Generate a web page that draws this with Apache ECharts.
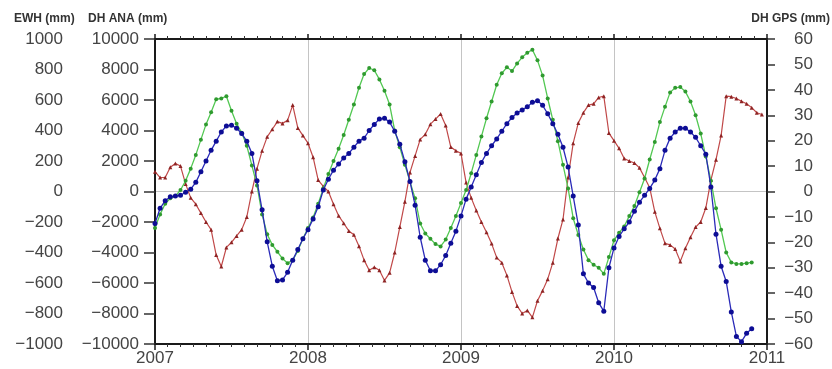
<!DOCTYPE html>
<html><head><meta charset="utf-8">
<script src="https://cdn.jsdelivr.net/npm/echarts@6/dist/echarts.min.js"></script>
<style>html,body{margin:0;padding:0;background:#fff}#c{width:832px;height:369px}</style>
</head><body><div id="c"></div>
<script>
// sampling schedule of the series (decimal years)
const sampleStartYear = 2007;
const sampleStepYears = 1 / 30;

// DH ANA (mm) - blue
const dhAna = [-2100,-1100,-600,-350,-300,-250,-50,150,600,1300,
2000,2700,3300,3900,4300,4350,4150,3800,3300,2500,
700,-1200,-3300,-4900,-5850,-5800,-5300,-4500,-3800,-3100,
-2500,-1800,-1000,100,800,1400,1800,2200,2500,2900,
3300,3500,4000,4400,4750,4800,4550,3950,3100,1950,
650,-900,-3000,-4500,-5200,-5200,-4800,-4200,-3400,-2600,
-1600,-500,300,1100,1900,2500,3000,3450,3950,4450,
4850,5150,5350,5550,5850,5950,5650,5100,4450,3750,
2900,1600,-300,-2200,-5400,-6000,-6300,-7300,-7850,-5000,
-3700,-2950,-2450,-2000,-1300,-700,-250,200,750,1500,
2700,3500,3900,4150,4150,3900,3550,3000,2450,300,
-2800,-4900,-5900,-7900,-9500,-9850,-9300,-9000];

// EWH (mm) - green
const ewh = [-240,-150,-80,-45,-30,10,70,150,240,340,
440,520,605,610,625,530,445,385,300,170,
40,-150,-280,-350,-395,-440,-470,-450,-390,-310,
-240,-170,-80,20,115,200,280,370,470,570,
680,770,810,795,735,660,570,400,290,175,
65,-45,-210,-275,-310,-345,-360,-315,-240,-160,
-75,10,120,240,360,480,590,700,775,815,
790,840,880,910,930,860,760,610,470,330,
175,20,-175,-285,-380,-450,-480,-500,-540,-430,
-320,-270,-230,-160,-95,-5,85,210,325,455,
555,650,680,685,655,590,500,380,230,70,
-110,-250,-400,-465,-475,-475,-470,-465];

// DH GPS (mm) - red
const dhGps = [7.8,5.5,5.5,9.5,11,10,3,-2.5,-5,-8.5,
-12,-15,-25,-29.5,-22,-20,-17.5,-15,-10,0,
9,16,21.5,24.5,27.5,26.8,28,34,25,22,
19,13.5,4.5,2,0,-5,-9.5,-12.5,-15.5,-17,
-21.5,-27,-31,-29.8,-31,-35,-32,-24,-14,-4,
7.5,14,20.5,22.5,26.5,28.5,30.5,26,17.5,16,
15,3.5,-2.5,-7.5,-12,-16,-20.5,-26,-28,-33,
-39.5,-45,-48,-46.8,-49.5,-43,-39,-34.5,-28,-18.5,
-11,5.5,19,27,31,34,34.5,37,37.5,23,
20,17,13,12,11.2,9.3,5.5,1.5,-8,-14.5,
-20.4,-21,-22.6,-27.5,-22.3,-18,-14,-12,-6.5,4.5,
12.5,22,37.5,37.3,36.6,35.5,34.5,33,31,30.3];

// axis ranges / ticks
const xYears = [2007, 2008, 2009, 2010, 2011];
const anaRange = [-10000, 10000], anaStep = 2000;
const ewhRange = [-1000, 1000], ewhStep = 200;
const gpsRange = [-60, 60], gpsStep = 10;

const toPairs = vals => vals.map((v, i) => [sampleStartYear + i * sampleStepYears, v]);

const font = '"Liberation Sans", Arial, Helvetica, sans-serif';
const lblColor = '#444444';
const axisColor = '#1a1a1a';
const fmtMinus = v => String(v).replace('-', '\u2212');

const chart = echarts.init(document.getElementById('c'), null, {renderer: 'canvas'});
chart.setOption({
  animation: false,
  backgroundColor: '#fff',
  grid: {left: 155, right: 65, top: 39, bottom: 25, containLabel: false},
  graphic: [
    {type: 'text', left: 14, top: 13, style: {text: 'EWH (mm)', font: 'bold 12px ' + font, fill: '#333'}},
    {type: 'text', left: 88, top: 13, style: {text: 'DH ANA (mm)', font: 'bold 12px ' + font, fill: '#333'}},
    {type: 'text', right: 2, top: 13, style: {text: 'DH GPS (mm)', font: 'bold 12px ' + font, fill: '#333'}}
  ],
  xAxis: [
    {
      type: 'value', position: 'bottom', min: xYears[0], max: xYears[xYears.length - 1], interval: 1,
      axisLine: {show: true, onZero: false, lineStyle: {color: axisColor, width: 2}},
      axisTick: {show: true, length: 6, lineStyle: {color: axisColor, width: 1.5}},
      minorTick: {show: true, splitNumber: 12, length: 3, lineStyle: {color: '#333', width: 1}},
      axisLabel: {color: lblColor, fontSize: 17, fontFamily: font, margin: 6, formatter: v => String(v)},
      splitLine: {show: true, lineStyle: {color: '#c4c4c4', width: 1}}
    },
    {
      type: 'value', position: 'top', min: xYears[0], max: xYears[xYears.length - 1], interval: 1,
      axisLine: {show: true, onZero: false, lineStyle: {color: axisColor, width: 2}},
      axisTick: {show: true, length: 5, lineStyle: {color: axisColor, width: 1.5}},
      minorTick: {show: true, splitNumber: 12, length: 3, lineStyle: {color: '#333', width: 1}},
      axisLabel: {show: false},
      splitLine: {show: false}
    }
  ],
  yAxis: [
    {
      type: 'value', position: 'left', min: anaRange[0], max: anaRange[1], interval: anaStep,
      axisLine: {show: true, onZero: false, lineStyle: {color: axisColor, width: 2}},
      axisTick: {show: true, length: 11, lineStyle: {color: '#333', width: 1.5}},
      axisLabel: {color: lblColor, fontSize: 17, fontFamily: font, margin: 16, formatter: fmtMinus},
      splitLine: {show: false}
    },
    {
      type: 'value', position: 'left', offset: 84, min: ewhRange[0], max: ewhRange[1], interval: ewhStep,
      axisLine: {show: false, onZero: false},
      axisTick: {show: false},
      axisLabel: {color: lblColor, fontSize: 17, fontFamily: font, margin: 8, formatter: fmtMinus},
      splitLine: {show: false}
    },
    {
      type: 'value', position: 'right', min: gpsRange[0], max: gpsRange[1], interval: gpsStep,
      axisLine: {show: true, onZero: false, lineStyle: {color: axisColor, width: 2}},
      axisTick: {show: true, length: 8, lineStyle: {color: '#333', width: 1.5}},
      axisLabel: {color: lblColor, fontSize: 17, fontFamily: font, margin: 46, align: 'right', formatter: fmtMinus},
      splitLine: {show: false}
    },
    {
      type: 'value', position: 'right', min: -1, max: 1, interval: 1,
      axisLine: {show: false, onZero: false}, axisTick: {show: false}, axisLabel: {show: false},
      splitLine: {show: true, lineStyle: {color: '#c4c4c4', width: 1}}
    }
  ],
  series: [
    {
      name: 'DH GPS', type: 'line', xAxisIndex: 0, yAxisIndex: 2, data: toPairs(dhGps),
      symbol: 'triangle', symbolSize: 4, showSymbol: true,
      lineStyle: {color: '#c04848', width: 1.2},
      itemStyle: {color: '#8e2424', borderWidth: 0}, z: 3
    },
    {
      name: 'EWH', type: 'line', xAxisIndex: 0, yAxisIndex: 1, data: toPairs(ewh),
      symbol: 'circle', symbolSize: 4, showSymbol: true,
      lineStyle: {color: '#52c852', width: 1.3},
      itemStyle: {color: '#2f9a2f', borderWidth: 0}, z: 4
    },
    {
      name: 'DH ANA', type: 'line', xAxisIndex: 0, yAxisIndex: 0, data: toPairs(dhAna),
      symbol: 'circle', symbolSize: 5, showSymbol: true,
      lineStyle: {color: '#2a2ab8', width: 1.3},
      itemStyle: {color: '#0d0d95', borderWidth: 0}, z: 5
    }
  ]
});
</script>
</body></html>
